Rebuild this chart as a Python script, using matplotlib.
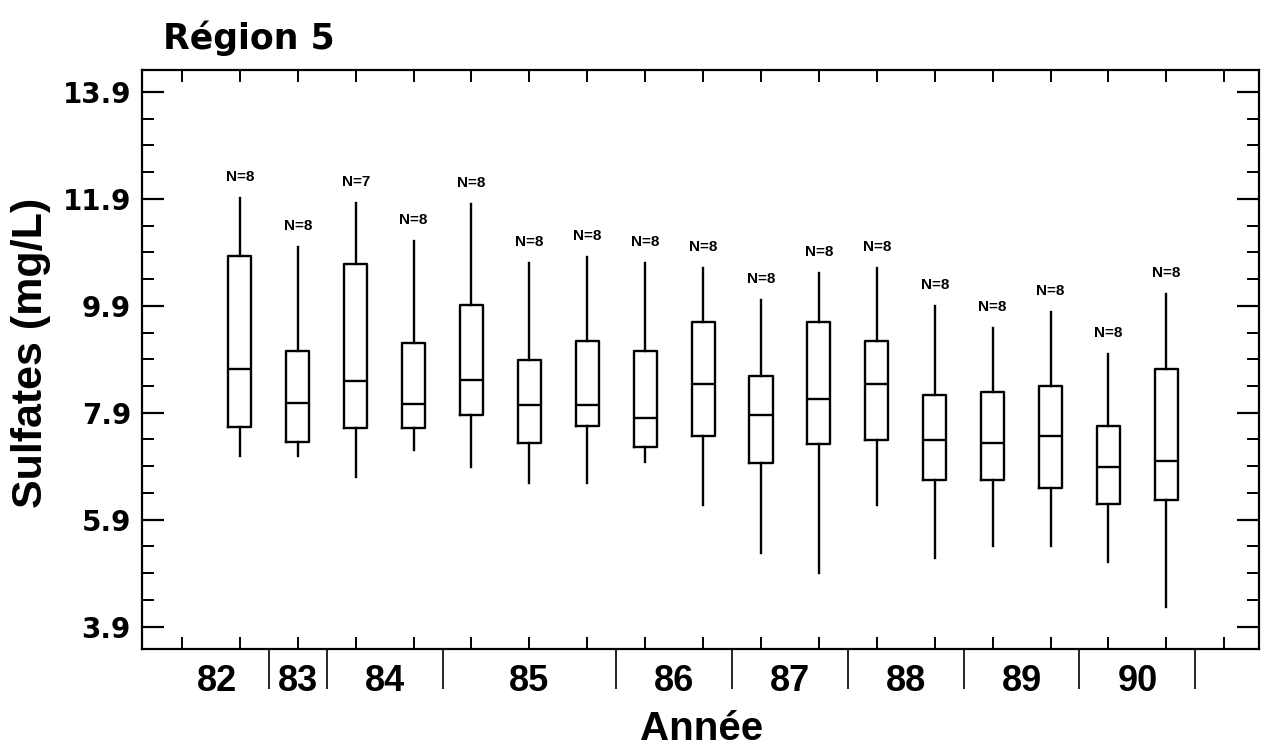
import matplotlib
matplotlib.use('Agg')
import matplotlib.pyplot as plt
import numpy as np
from matplotlib.ticker import FixedLocator, NullFormatter, FormatStrFormatter

# ---- data ----
years = ['82', '83', '84', '85', '86', '87', '88', '89', '90']
boxes_per_year = [1, 1, 2, 3, 2, 2, 2, 2, 2]
n_obs = [8, 8, 7, 8, 8, 8, 8, 8, 8, 8, 8, 8, 8, 8, 8, 8, 8]
whishi = [11.91, 11.00, 11.83, 11.11, 11.81, 10.70, 10.82, 10.70, 10.60,
          10.01, 10.51, 10.60, 9.90, 9.49, 9.79, 9.00, 10.12]
q3 = [10.83, 9.06, 10.69, 9.20, 9.91, 8.89, 9.25, 9.05, 9.60,
      8.59, 9.60, 9.24, 8.23, 8.28, 8.39, 7.65, 8.71]
med = [8.71, 8.09, 8.50, 8.06, 8.51, 8.04, 8.04, 7.81, 8.43,
       7.85, 8.16, 8.43, 7.38, 7.34, 7.46, 6.89, 7.00]
q1 = [7.63, 7.35, 7.61, 7.61, 7.85, 7.34, 7.65, 7.25, 7.46,
      6.95, 7.32, 7.39, 6.64, 6.64, 6.50, 6.19, 6.27]
whislo = [7.09, 7.09, 6.69, 7.20, 6.89, 6.59, 6.59, 6.98, 6.17,
          5.27, 4.90, 6.17, 5.19, 5.40, 5.40, 5.10, 4.27]
y_ticks = [3.9, 5.9, 7.9, 9.9, 11.9, 13.9]

W, H = 1261, 749
fig = plt.figure(figsize=(W / 100, H / 100), dpi=100)
L, R, T, B = 142, 1259, 70, 649
ax = fig.add_axes([L / W, 1 - B / H, (R - L) / W, (B - T) / H])

positions = np.arange(1, len(med) + 1)
stats = [dict(med=m, q1=a, q3=b, whislo=lo, whishi=hi)
         for m, a, b, lo, hi in zip(med, q1, q3, whislo, whishi)]
lp = dict(color='black', linewidth=1.7)
ax.bxp(stats, positions=positions, widths=0.4, showcaps=False, showfliers=False,
       boxprops=lp, whiskerprops=lp, medianprops=lp, manage_ticks=False)

ax.set_xlim(-0.69, 18.6)
ax.set_ylim(3.48, 14.31)

for s in ax.spines.values():
    s.set_linewidth(1.6)

# x ticks
ax.xaxis.set_major_locator(FixedLocator(np.arange(0, len(med) + 2)))
ax.xaxis.set_major_formatter(NullFormatter())
separators = np.cumsum(boxes_per_year) + 0.5
ax.xaxis.set_minor_locator(FixedLocator(separators))
ax.xaxis.set_minor_formatter(NullFormatter())
ax.tick_params(axis='x', which='major', direction='in', top=True, bottom=True,
               length=8.6, width=1.4)
ax.tick_params(axis='x', which='minor', direction='out', top=False, bottom=True,
               length=29, width=1.2)

# y ticks
ax.yaxis.set_major_locator(FixedLocator(y_ticks))
ax.yaxis.set_major_formatter(FormatStrFormatter('%.1f'))
ax.yaxis.set_minor_locator(FixedLocator(np.arange(3.9, 14.3, 0.5)))
ax.tick_params(axis='y', which='major', direction='in', left=True, right=True,
               length=15.8, width=1.6, pad=8, labelsize=20)
ax.tick_params(axis='y', which='minor', direction='in', left=True, right=True,
               length=8.6, width=1.4)
for lab in ax.get_yticklabels():
    lab.set_fontfamily('DejaVu Sans')
    lab.set_fontweight('bold')

# year labels
bounds = np.concatenate([[-0.3], separators])
centers = (bounds[:-1] + bounds[1:]) / 2
for c, yr in zip(centers, years):
    ax.annotate(yr, xy=(c, 0), xycoords=('data', 'axes fraction'),
                xytext=(0, -42), textcoords='offset pixels',
                ha='center', va='baseline', fontsize=26, fontweight='bold',
                family='Liberation Sans', annotation_clip=False)

# N labels
for p, hi, n in zip(positions, whishi, n_obs):
    ax.annotate(f'N={n}', xy=(p, hi), xytext=(0, 17), textcoords='offset pixels',
                ha='center', va='baseline', fontsize=11, fontweight='bold',
                family='Liberation Sans')

fig.text(163 / W, 1 - 49 / H, 'Région 5', fontsize=25, fontweight='bold',
         family='DejaVu Sans', ha='left', va='baseline')
fig.text(31 / W, 1 - 353 / H, 'Sulfates (mg/L)', rotation=90, fontsize=31,
         fontweight='bold', family='Liberation Sans', ha='center', va='center')
fig.text(702 / W, 1 - 740 / H, 'Année', fontsize=29, fontweight='bold',
         family='Liberation Sans', ha='center', va='baseline')

fig.savefig('out.png', dpi=100)
